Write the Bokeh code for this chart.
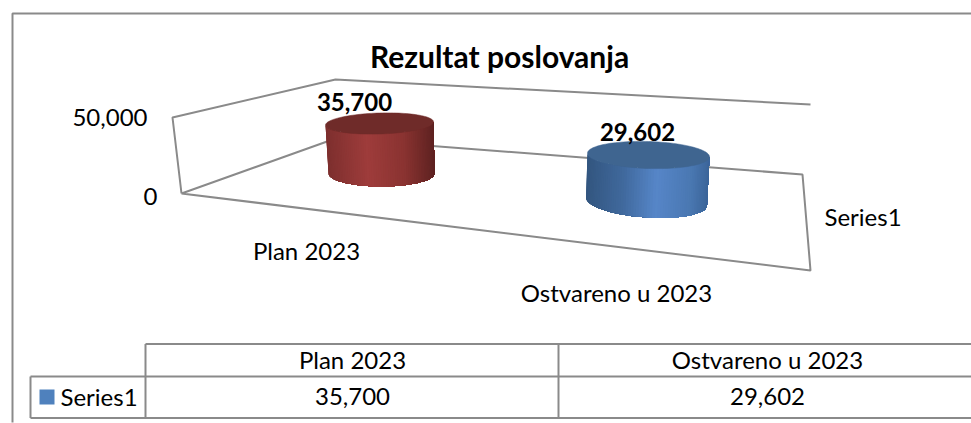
import numpy as np
from bokeh.plotting import figure
from bokeh.models import Range1d
from bokeh.core.properties import value
from bokeh.embed import file_html
from bokeh.resources import INLINE

# ---- data ----
categories = ["Plan 2023", "Ostvareno u 2023"]
series_name = "Series1"
series_values = [35700, 29602]
axis_ticks = [0, 50000]
title_text = "Rezultat poslovanja"

# ---- styles / geometry (page pixels) ----
FONT = value("Lato")
GRID = "#8a8a8a"
LEGEND = "#4f81bd"

p = figure(width=971, height=423, output_backend="svg", toolbar_location=None,
           x_range=Range1d(0, 971), y_range=Range1d(423, 0),
           min_border=0, outline_line_color=None, background_fill_color="white",
           border_fill_color="white")
p.axis.visible = False
p.grid.visible = False


def segs(xs, ys, w=2):
    p.line(xs, ys, line_color=GRID, line_width=w)


def txt(x, y, s, size, bold=False, align="center"):
    p.text([x], [y - 1.5], text=[s], text_font=FONT, text_font_size=f"{size}px",
           text_color="black", text_align=align, text_baseline="middle",
           text_font_style="bold" if bold else "normal")


# outer frame
segs([12, 12, 971], [422, 13, 13], 2)

# 3-D walls and floor
segs([181, 172, 335, 810], [193, 117, 79, 104])
segs([181, 335, 802, 810, 181], [193, 138, 174, 270, 193])

# cylinders: (base centre x, y, rx, ry, tilt), top ellipse, px per unit
cyl = [
    dict(bx=381, by=173, brx=53, bry=13, bt=0.0, tx=379, trx=54, tr=10.5, tt=-0.03,
         scale=50 / 35700, top="#6f2b29",
         stops=[(0, "#7d2f2e"), (.38, "#9e3c3b"), (.72, "#8a3331"), (1, "#5e2221")]),
    dict(bx=646, by=201, brx=60.5, bry=16, bt=0.065, tx=648, trx=61, tr=13.5, tt=0.03,
         scale=46.5 / 29602, top="#3f6590",
         stops=[(0, "#33567f"), (.3, "#40699d"), (.57, "#5686c8"), (.85, "#4a78b2"), (1, "#3c659a")]),
]


def grad(stops, t):
    ps = [s[0] for s in stops]
    cs = np.array([[int(s[1][i:i + 2], 16) for i in (1, 3, 5)] for s in stops], float)
    c = [np.interp(t, ps, cs[:, k]) for k in range(3)]
    return "#%02x%02x%02x" % tuple(int(round(v)) for v in c)


for v, c in zip(series_values, cyl):
    top_y = c["by"] - v * c["scale"]
    n = 70
    th = np.linspace(np.pi, 0, n + 1)
    bxs = c["bx"] + c["brx"] * np.cos(th)
    bys = c["by"] + c["bry"] * np.sin(th) + c["brx"] * np.cos(th) * c["bt"]
    txs = c["tx"] + c["trx"] * np.cos(th)
    tys = top_y + c["tr"] * np.sin(th) + c["trx"] * np.cos(th) * c["tt"]
    # each strip runs on to the cylinder's right edge, so later strips paint over it: no seams
    for i in range(n):
        col = grad(c["stops"], (1 + np.cos((th[i] + th[i + 1]) / 2)) / 2)
        px = np.concatenate([txs[i:], bxs[i:][::-1]])
        py = np.concatenate([tys[i:], bys[i:][::-1]])
        p.patch(px, py, fill_color=col, line_color=None)
    a = np.linspace(0, 2 * np.pi, 121)
    p.patch(c["tx"] + c["trx"] * np.cos(a),
            top_y + c["tr"] * np.sin(a) + c["trx"] * np.cos(a) * c["tt"],
            fill_color=c["top"], line_color=c["top"], line_width=0.5)

# texts in the chart
txt(499, 57, title_text, 30, bold=True)
txt(147, 118, f"{axis_ticks[1]:,}", 24, align="right")
txt(157, 197, f"{axis_ticks[0]:,}", 24, align="right")
txt(306, 251, categories[0], 24)
txt(616, 293, categories[1], 24)
txt(824, 217, series_name, 24, align="left")
txt(354, 103, f"{series_values[0]:,}", 24, bold=True)
txt(637, 133, f"{series_values[1]:,}", 24, bold=True)

# data table
segs([145, 971], [343.5, 343.5], 2)
segs([30, 971], [376, 376], 2)
segs([30, 971], [417.5, 417.5], 2)
segs([30, 30], [376, 417.5], 2)
segs([145, 145], [343.5, 417.5], 2)
segs([558, 558], [343.5, 417.5], 2)

p.quad(left=[39], right=[54], top=[389], bottom=[404], fill_color=LEGEND, line_color=None)
txt(60, 397, series_name, 24, align="left")
txt(352, 360, categories[0], 24)
txt(767, 360, categories[1], 24)
txt(352, 397, f"{series_values[0]:,}", 24)
txt(767, 397, f"{series_values[1]:,}", 24)

open("out.html", "w").write(file_html(p, INLINE))
